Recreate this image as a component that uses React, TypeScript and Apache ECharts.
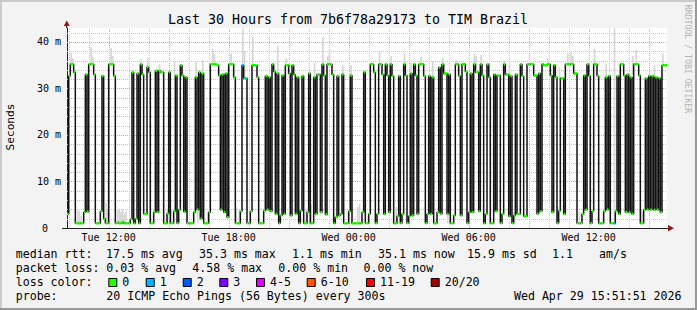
import React, { useEffect, useRef } from 'react';
import * as echarts from 'echarts';

// ---- time axis (minutes since Tue 00:00) ----
const START_MIN = 595; // Tue 09:55
const STEP_MIN = 5;
const END_MIN = 2395; // Wed 15:55

// ---- median rtt (ms), one value per 5-minute step, in 5-hour blocks ----
const medianBlock1 = [3.0, 32.7, 35.2, 35.2, 33.5, 1.0, 1.0, 1.0, 1.0, 1.0, 3.4, 33.0, 3.5, 35.2, 35.2, 35.2, 33.0, 1.0, 1.0, 1.0, 3.6, 32.7, 2.0, 1.0, 1.0, 35.2, 35.2, 35.2, 32.7, 1.0, 1.2, 1.0, 1.0, 1.3, 1.0, 1.0, 1.0, 1.0, 1.9, 33.5, 1.0, 2.0, 33.2, 1.0, 35.2, 33.0, 3.0, 3.0, 34.6, 33.5, 1.0, 1.0, 3.4, 33.8, 3.4, 33.8, 33.5, 33.5, 1.0, 1.0];
const medianBlock2 = [3.1, 33.5, 1.0, 1.0, 3.6, 32.8, 1.0, 3.9, 35.0, 32.8, 3.5, 32.4, 1.0, 1.0, 1.0, 1.0, 3.4, 32.4, 3.9, 33.5, 2.0, 33.2, 1.0, 1.0, 1.0, 3.4, 35.2, 35.2, 35.2, 35.2, 35.0, 32.8, 3.9, 33.0, 3.4, 33.2, 2.3, 35.2, 35.2, 35.2, 32.4, 1.0, 1.0, 1.0, 3.6, 35.0, 32.2, 32.2, 1.0, 1.0, 3.6, 35.0, 35.0, 35.0, 32.4, 1.0, 1.0, 1.0, 3.7, 32.7];
const medianBlock3 = [3.9, 32.4, 3.6, 35.2, 33.6, 3.0, 33.2, 1.0, 2.7, 32.8, 3.0, 35.0, 35.0, 33.2, 2.7, 35.0, 33.0, 3.0, 32.4, 1.0, 3.7, 32.7, 1.0, 1.0, 3.4, 33.2, 1.0, 1.0, 32.4, 3.0, 33.0, 33.0, 3.4, 35.2, 32.8, 2.9, 35.2, 35.2, 35.2, 33.0, 1.0, 2.3, 32.7, 2.7, 3.0, 33.0, 1.0, 1.0, 1.0, 3.6, 32.8, 1.0, 1.0, 1.0, 1.0, 1.0, 1.0, 3.4, 33.5, 1.0];
const medianBlock4 = [1.0, 3.0, 35.2, 35.2, 33.5, 1.0, 3.0, 35.2, 35.2, 33.0, 3.0, 35.2, 32.8, 3.4, 35.2, 32.7, 1.0, 1.0, 2.5, 32.7, 1.0, 3.0, 35.2, 32.8, 1.0, 2.6, 33.2, 2.7, 35.2, 32.8, 3.0, 35.2, 35.2, 35.2, 32.7, 1.0, 3.0, 32.7, 3.0, 32.4, 1.0, 1.0, 3.4, 34.5, 3.0, 35.2, 33.2, 33.2, 3.0, 33.0, 1.0, 1.0, 2.7, 35.2, 35.2, 32.7, 2.7, 35.2, 35.2, 33.6];
const medianBlock5 = [1.0, 3.4, 33.2, 3.4, 35.2, 33.5, 33.5, 3.6, 35.2, 32.8, 1.0, 3.0, 35.2, 32.4, 1.0, 1.0, 33.0, 3.6, 32.8, 32.8, 1.0, 3.0, 35.2, 33.0, 33.0, 2.5, 32.7, 1.0, 2.7, 33.0, 3.0, 3.0, 35.2, 32.7, 2.5, 2.5, 35.2, 35.2, 35.2, 35.2, 32.8, 32.8, 3.0, 33.2, 3.6, 35.2, 35.0, 35.0, 35.2, 35.2, 32.8, 3.4, 35.0, 32.4, 1.0, 3.7, 32.2, 32.2, 3.0, 35.2];
const medianBlock6 = [35.2, 35.2, 35.2, 35.2, 33.2, 33.2, 1.0, 1.0, 1.0, 3.0, 32.8, 3.9, 35.2, 32.7, 1.0, 3.6, 35.2, 35.2, 32.7, 1.0, 1.0, 1.0, 3.6, 32.4, 3.9, 32.7, 1.0, 1.0, 1.0, 3.6, 32.7, 3.0, 35.2, 35.2, 32.8, 3.4, 33.0, 3.4, 32.4, 3.0, 35.2, 35.2, 35.2, 32.8, 1.0, 1.0, 3.9, 32.2, 3.9, 32.7, 3.9, 32.7, 3.9, 32.4, 3.9, 32.2, 3.4, 35.0, 35.0, 35.0];

// ---- loss events: [step, loss colour index] (all other steps: 0 lost) ----
const lossEvents = [[105, 1], [106, 1], [328, 1]];

// ---- smoke (ping spread): [step, low ms, high ms] ----
const smokeRanges = [
  [2, 35.2, 37.6], [3, 35.2, 36.5], [6, 1.0, 3.8], [7, 1.0, 3.6], [8, 1.0, 2.5],
  [14, 35.2, 38.9], [15, 35.2, 36.8], [23, 1.0, 5.5], [24, 1.0, 4.0],
  [26, 35.2, 38.7], [27, 35.2, 37.0], [30, 1.0, 3.8], [31, 1.0, 4.2], [32, 1.0, 3.5],
  [33, 1.0, 3.9], [34, 1.0, 3.0], [35, 1.0, 3.6], [44, 35.2, 36.3], [48, 34.6, 36.6],
  [55, 33.8, 35.2], [60, 1.0, 4.0], [62, 1.0, 3.9], [64, 32.8, 35.7], [77, 32.4, 35.7],
  [78, 1.0, 6.0], [81, 33.2, 36.0], [84, 1.0, 3.5], [87, 35.2, 38.5], [88, 35.2, 37.4],
  [98, 35.2, 37.5], [101, 1.0, 4.2], [103, 1.0, 3.9], [105, 35.0, 42.9], [106, 32.2, 38.0],
  [111, 35.0, 41.0], [126, 33.2, 39.2], [131, 35.0, 36.5], [143, 1.0, 4.0], [146, 1.0, 5.0],
  [148, 32.4, 35.5], [153, 35.2, 41.0], [156, 35.2, 37.0], [157, 35.2, 38.5], [165, 33.0, 35.0],
  [170, 32.8, 35.0], [174, 1.0, 4.5], [175, 1.0, 5.2], [187, 35.2, 38.0], [194, 35.2, 37.0],
  [197, 1.0, 4.5], [202, 35.2, 37.5], [206, 33.2, 35.5], [212, 35.2, 36.8], [219, 32.4, 35.9],
  [225, 35.2, 36.5], [228, 1.0, 3.6], [233, 35.2, 36.2], [244, 35.2, 37.5], [245, 33.5, 37.0],
  [248, 35.2, 37.2], [262, 35.2, 36.0], [265, 32.7, 35.6], [268, 1.0, 3.5], [288, 35.2, 36.5],
  [294, 1.0, 4.6], [295, 32.2, 34.5], [300, 35.2, 37.5], [302, 35.2, 37.9], [303, 35.2, 37.0],
  [307, 1.0, 3.5], [316, 35.2, 38.5], [323, 32.4, 35.3], [328, 1.0, 42.9], [339, 33.0, 37.0],
  [341, 35.2, 38.3], [344, 1.0, 4.0], [345, 1.0, 3.5], [352, 32.7, 35.0], [357, 35.0, 37.5],
];

// ---- axes ----
const xLabelValues = [720, 1080, 1440, 1800, 2160];
const xLabelTexts = ['Tue 12:00', 'Tue 18:00', 'Wed 00:00', 'Wed 06:00', 'Wed 12:00'];
const gridHours = [600, 660, 720, 780, 840, 900, 960, 1020, 1080, 1140, 1200, 1260, 1320, 1380, 1440, 1500, 1560, 1620, 1680, 1740, 1800, 1860, 1920, 1980, 2040, 2100, 2160, 2220, 2280, 2340];
const gridMs = [2, 4, 6, 8, 10, 12, 14, 16, 18, 20, 22, 24, 26, 28, 30, 32, 34, 36, 38, 40, 42];
const yLabelValues = [0, 10, 20, 30, 40];
const Y_MAX = 43;

// ---- legend texts ----
const titleText = 'Last 30 Hours from 7b6f78a29173 to TIM Brazil';
const rttStats = ['17.5 ms avg', '35.3 ms max', '1.1 ms min', '35.1 ms now', '15.9 ms sd', '1.1', 'am/s'];
const lossStats = ['0.03 % avg', '4.58 % max', '0.00 % min', '0.00 % now'];
const lossColors = ['#26ff00', '#00b8ff', '#0059ff', '#7e00ff', '#dd00ff', '#ff5500', '#ff0000', '#a10000'];
const lossLabels = ['0', '1', '2', '3', '4-5', '6-10', '11-19', '20/20'];
const probeText = '20 ICMP Echo Pings (56 Bytes) every 300s';
const stampText = 'Wed Apr 29 15:51:51 2026';

const FONT = "'DejaVu Sans Mono', monospace";

// layout constants
const RTT_X = [106, 199, 292, 378, 467, 552, 599];
const LOSS_X = [106.3, 192.3, 278.3, 363.5];
const BOX_X = [108.3, 145.7, 182.7, 219.3, 256, 306.7, 366, 430.7];

export default function App() {
  const ref = useRef<HTMLDivElement>(null);

  useEffect(() => {
    if (!ref.current) return;
    const chart = echarts.init(ref.current, null, { renderer: 'svg' });

    const median = [...medianBlock1, ...medianBlock2, ...medianBlock3, ...medianBlock4, ...medianBlock5, ...medianBlock6];
    const lossOf: Record<number, number> = {};
    lossEvents.forEach(([s, l]) => { lossOf[s] = l; });

    const lineData = median.map((v, i) => [START_MIN + i * STEP_MIN, v]);
    lineData.push([END_MIN, median[median.length - 1]]);
    const bandData = median.map((v, i) => [START_MIN + i * STEP_MIN, v, lossOf[i] ?? 0]);
    const smokeData = smokeRanges.map(([s, lo, hi]) => [START_MIN + s * STEP_MIN, lo, hi]);
    const vGrid = gridHours.map((t) => [t, 0, t % 180 === 0 ? 1 : 0]);
    const hGrid = gridMs.map((v) => [START_MIN, v, v % 10 === 0 ? 1 : 0]);

    const txt = (text: string, x: number, y: number, extra: any = {}) => ({
      type: 'text', x, y, silent: true,
      style: { text, fill: '#000', fontFamily: FONT, fontSize: 11.6, verticalAlign: 'middle', align: 'left', ...extra },
    });

    const graphics: any[] = [
      { type: 'rect', shape: { x: 0, y: 0, width: 697, height: 2 }, style: { fill: '#cbcbcb' }, silent: true },
      { type: 'rect', shape: { x: 0, y: 0, width: 2, height: 310 }, style: { fill: '#cbcbcb' }, silent: true },
      { type: 'rect', shape: { x: 0, y: 308, width: 697, height: 2 }, style: { fill: '#999999' }, silent: true },
      { type: 'rect', shape: { x: 695, y: 0, width: 2, height: 310 }, style: { fill: '#999999' }, silent: true },
      txt(titleText, 348, 19, { align: 'center', fontSize: 13.3 }),
      { type: 'text', x: 10, y: 127, rotation: Math.PI / 2, silent: true,
        style: { text: 'Seconds', fill: '#000', fontFamily: FONT, fontSize: 11.2, align: 'center', verticalAlign: 'middle' } },
      { type: 'text', x: 688, y: 59, rotation: -Math.PI / 2, silent: true,
        style: { text: 'RRDTOOL / TOBI OETIKER', fill: '#b4b4b4', fontFamily: FONT, fontSize: 8.2, align: 'center', verticalAlign: 'middle' } },
      // axis arrows
      { type: 'line', shape: { x1: 66.5, y1: 24, x2: 66.5, y2: 28 }, style: { stroke: '#202020', lineWidth: 1 }, silent: true },
      { type: 'polygon', shape: { points: [[66.8, 20.5], [63.8, 26], [69.8, 26]] }, style: { fill: '#8b1a1a' }, silent: true },
      { type: 'line', shape: { x1: 62, y1: 228.5, x2: 668, y2: 228.5 }, style: { stroke: '#202020', lineWidth: 1 }, silent: true },
      { type: 'polygon', shape: { points: [[668, 225], [668, 231.5], [674, 228.3]] }, style: { fill: '#8b1a1a' }, silent: true },
      // legend
      txt('median rtt:', 15.7, 254),
      ...rttStats.map((s, i) => txt(s, RTT_X[i], 254)),
      txt('packet loss:', 15.7, 268),
      ...lossStats.map((s, i) => txt(s, LOSS_X[i], 268)),
      txt('loss color:', 15.7, 282),
      ...lossColors.map((c, i) => ({ type: 'rect', silent: true, shape: { x: BOX_X[i] + 0.5, y: 278.5, width: 8, height: 8 }, style: { fill: c, stroke: '#000', lineWidth: 1 } })),
      ...lossLabels.map((l, i) => txt(l, BOX_X[i] + 14, 282)),
      txt('probe:', 15.7, 296),
      txt(probeText, 106.3, 296),
      txt(stampText, 681.5, 296, { align: 'right' }),
    ];

    chart.setOption({
      animation: false,
      backgroundColor: '#f3f3f3',
      grid: { left: 67, top: 28, width: 600, height: 200, show: true, backgroundColor: '#ffffff', borderWidth: 0 },
      xAxis: {
        type: 'value', min: START_MIN, max: END_MIN,
        splitLine: { show: false }, axisTick: { show: false },
        axisLine: { show: false },
        axisLabel: {
          customValues: xLabelValues,
          formatter: (v: number) => xLabelTexts[xLabelValues.indexOf(v)] ?? '',
          fontFamily: FONT, fontSize: 10, color: '#000', margin: 4,
        },
      },
      yAxis: {
        type: 'value', min: 0, max: Y_MAX,
        splitLine: { show: false }, axisTick: { show: false },
        axisLine: { show: true, lineStyle: { color: '#202020', width: 1 } },
        axisLabel: {
          customValues: yLabelValues,
          formatter: (v: number) => (v === 0 ? '{z|0}' : '{n|' + v + ' m}'),
          rich: {
            z: { padding: [0, 13, 0, 0], fontFamily: FONT, fontSize: 10, color: '#000000' },
            n: { fontFamily: FONT, fontSize: 10, color: '#000000' },
          },
          fontFamily: FONT, fontSize: 10, color: '#000000', margin: 6,
        },
      },
      graphic: graphics,
      series: [
        {
          type: 'custom', z: 1, silent: true, data: vGrid,
          renderItem: (_p: any, api: any) => {
            const t = api.value(0);
            const a = api.coord([t, 0]);
            const b = api.coord([t, Y_MAX]);
            const x = Math.round(a[0]) + 0.5;
            return { type: 'line', shape: { x1: x, y1: a[1], x2: x, y2: b[1] },
              style: { stroke: api.value(2) ? '#ee9a9a' : '#c4c4c4', lineWidth: 1, lineDash: [1, 1] } };
          },
        },
        {
          type: 'custom', z: 1, silent: true, data: hGrid,
          renderItem: (_p: any, api: any) => {
            const v = api.value(1);
            const a = api.coord([START_MIN, v]);
            const b = api.coord([END_MIN, v]);
            const y = Math.round(a[1]) + 0.5;
            return { type: 'line', shape: { x1: a[0], y1: y, x2: b[0], y2: y },
              style: { stroke: api.value(2) ? '#ee9a9a' : '#c4c4c4', lineWidth: 1, lineDash: [1, 1] } };
          },
        },
        {
          type: 'custom', z: 2, silent: true, data: smokeData,
          renderItem: (_p: any, api: any) => {
            const t = api.value(0);
            const a = api.coord([t, api.value(2)]);
            const b = api.coord([t + STEP_MIN, api.value(1)]);
            return { type: 'rect', shape: { x: a[0], y: a[1], width: b[0] - a[0], height: b[1] - a[1] },
              style: { fill: '#d6d6d6' } };
          },
        },
        {
          type: 'line', z: 3, silent: true, data: lineData, step: 'end', showSymbol: false, symbol: 'none',
          lineStyle: { color: '#111111', width: 1.5 },
        },
        {
          type: 'custom', z: 4, silent: true, data: bandData,
          renderItem: (_p: any, api: any) => {
            const t = api.value(0);
            const v = api.value(1);
            const a = api.coord([t, v]);
            const b = api.coord([t + STEP_MIN, v]);
            return { type: 'rect', shape: { x: a[0], y: a[1] - 1.25, width: b[0] - a[0], height: 2.5 },
              style: { fill: lossColors[api.value(2)] } };
          },
        },
      ],
    });

    return () => chart.dispose();
  }, []);

  return (
    <div style={{ position: 'fixed', left: 0, top: 0, width: 697, height: 310 }}>
      <div ref={ref} style={{ width: 697, height: 310 }} />
    </div>
  );
}
